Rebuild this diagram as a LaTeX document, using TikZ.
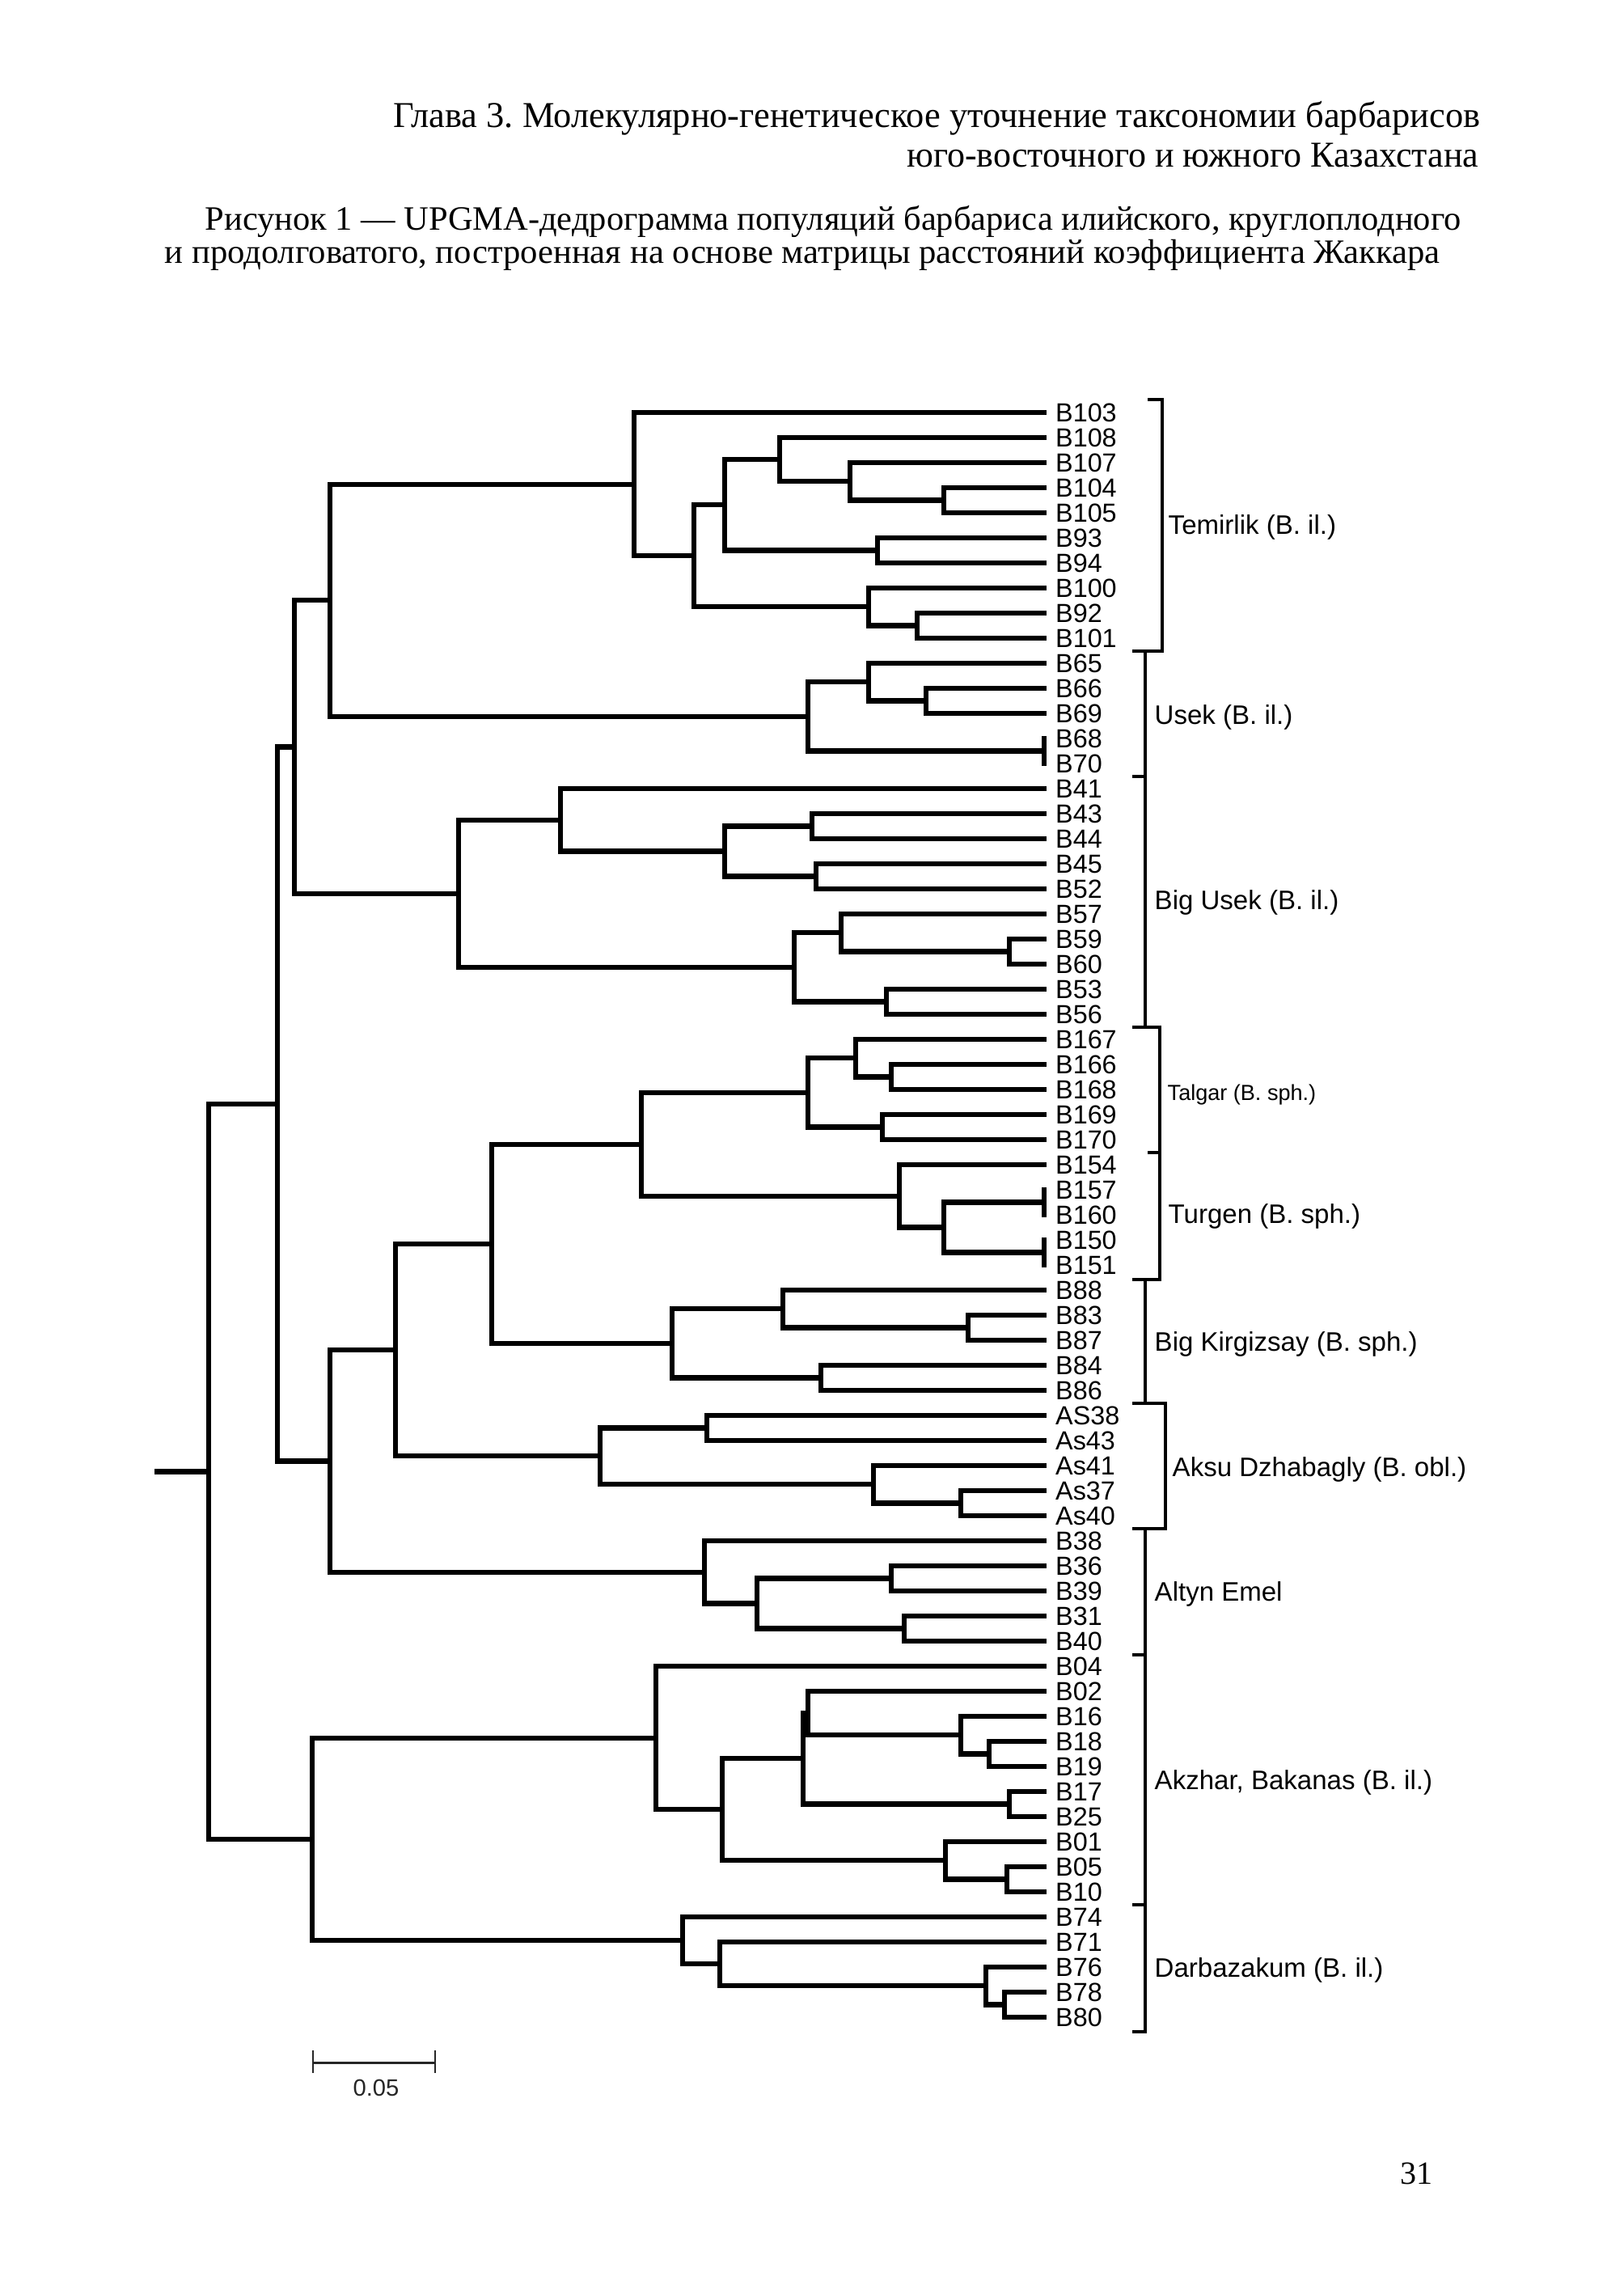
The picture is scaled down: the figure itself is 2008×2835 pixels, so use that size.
\documentclass[tikz,border=0pt]{standalone}
\usepackage{fontspec}
\usepackage{graphicx}
\setmainfont{Liberation Serif}
\newfontfamily\arialf{Liberation Sans}
\frenchspacing
\newcommand\inode[3]{\coordinate (#1) at (#2,{510+31*#3});}
\newcommand\dbranch[3]{\draw[treeline] (#2) -| (#1) |- (#3);}
\begin{document}
\begin{tikzpicture}[x=0.1mm,y=-0.1mm,
  treeline/.style={line width=0.62mm,black},
  brk/.style={line width=0.33mm,black},
  leaf/.style={anchor=west,inner xsep=1.05mm,inner ysep=0pt,text height=6.6pt,text depth=0pt,font=\arialf\fontsize{9.2}{10}\selectfont},
  grp/.style={anchor=base west,inner sep=0pt,font=\arialf\fontsize{9.4}{11}\selectfont},
  grpsmall/.style={anchor=base west,inner sep=0pt,font=\arialf\fontsize{7.7}{9}\selectfont},
  head/.style={inner sep=0pt}]
\fill[white] (0,0) rectangle (2008,2835);
% header
\node[head,anchor=base east] (h1) at (1831,158) {\resizebox{134.4mm}{\height}{\fontsize{12.8}{14}\selectfont Глава 3. Молекулярно-генетическое уточнение таксономии барбарисов}};
\node[head,anchor=base east] (h2) at (1829,206) {\resizebox{70.7mm}{\height}{\fontsize{12.8}{14}\selectfont юго-восточного и южного Казахстана}};
\node[head,anchor=base west] (c1) at (253,284) {\resizebox{155.3mm}{\height}{\fontsize{12}{13}\selectfont Рисунок 1 — UPGMA-дедрограмма популяций барбариса илийского, круглоплодного}};
\node[head,anchor=base west] (c2) at (203,325) {\resizebox{157.7mm}{\height}{\fontsize{12}{13}\selectfont и продолговатого, построенная на основе матрицы расстояний коэффициента Жаккара}};
% leaves
\foreach \n [count=\i from 0] in {B103,B108,B107,B104,B105,B93,B94,B100,B92,B101,B65,B66,B69,B68,B70,B41,B43,B44,B45,B52,B57,B59,B60,B53,B56,B167,B166,B168,B169,B170,B154,B157,B160,B150,B151,B88,B83,B87,B84,B86,AS38,As43,As41,As37,As40,B38,B36,B39,B31,B40,B04,B02,B16,B18,B19,B17,B25,B01,B05,B10,B74,B71,B76,B78,B80}
  \node[leaf] (L\i) at (1294,{510+31*\i}) {\n};
% Temirlik
\inode{e}{1167}{3.5} \dbranch{e}{L3}{L4}
\inode{d}{1051}{2.75} \dbranch{d}{L2}{e}
\inode{c}{964}{1.875} \dbranch{c}{L1}{d}
\inode{t93}{1085}{5.5} \dbranch{t93}{L5}{L6}
\inode{a}{896}{3.6875} \dbranch{a}{c}{t93}
\inode{f}{1134}{8.5} \dbranch{f}{L8}{L9}
\inode{b}{1074}{7.75} \dbranch{b}{L7}{f}
\inode{T2}{858}{5.71875} \dbranch{T2}{a}{b}
\inode{T}{784}{2.859375} \dbranch{T}{L0}{T2}
% Usek
\inode{u1}{1145}{11.5} \dbranch{u1}{L11}{L12}
\inode{u2}{1074}{10.75} \dbranch{u2}{L10}{u1}
\inode{u3}{1291}{13.5} \dbranch{u3}{L13}{L14}
\inode{U}{999}{12.125} \dbranch{U}{u2}{u3}
\inode{TU}{408}{7.4921875} \dbranch{TU}{T}{U}
% Big Usek
\inode{bu1}{1004}{16.5} \dbranch{bu1}{L16}{L17}
\inode{bu2}{1009}{18.5} \dbranch{bu2}{L18}{L19}
\inode{bu3}{896}{17.5} \dbranch{bu3}{bu1}{bu2}
\inode{bu4}{693}{16.25} \dbranch{bu4}{L15}{bu3}
\inode{bu5}{1248}{21.5} \dbranch{bu5}{L21}{L22}
\inode{bu6}{1040}{20.75} \dbranch{bu6}{L20}{bu5}
\inode{bu7}{1096}{23.5} \dbranch{bu7}{L23}{L24}
\inode{bu8}{982}{22.125} \dbranch{bu8}{bu6}{bu7}
\inode{BU}{567}{19.1875} \dbranch{BU}{bu4}{bu8}
\inode{TUB}{364}{13.33984} \dbranch{TUB}{TU}{BU}
% Talgar
\inode{tg1}{1102}{26.5} \dbranch{tg1}{L26}{L27}
\inode{tg2}{1058}{25.75} \dbranch{tg2}{L25}{tg1}
\inode{tg3}{1091}{28.5} \dbranch{tg3}{L28}{L29}
\inode{tg}{999}{27.125} \dbranch{tg}{tg2}{tg3}
% Turgen
\inode{tr1}{1291}{31.5} \dbranch{tr1}{L31}{L32}
\inode{tr2}{1291}{33.5} \dbranch{tr2}{L33}{L34}
\inode{tr3}{1167}{32.5} \dbranch{tr3}{tr1}{tr2}
\inode{tr}{1112}{31.25} \dbranch{tr}{L30}{tr3}
\inode{TT}{793}{29.1875} \dbranch{TT}{tg}{tr}
% Big Kirgizsay
\inode{bk1}{1197}{36.5} \dbranch{bk1}{L36}{L37}
\inode{bk2}{968}{35.75} \dbranch{bk2}{L35}{bk1}
\inode{bk3}{1015}{38.5} \dbranch{bk3}{L38}{L39}
\inode{bk}{831}{37.125} \dbranch{bk}{bk2}{bk3}
\inode{K}{608}{33.15625} \dbranch{K}{TT}{bk}
% Aksu
\inode{ak1}{874}{40.5} \dbranch{ak1}{L40}{L41}
\inode{ak2}{1188}{43.5} \dbranch{ak2}{L43}{L44}
\inode{ak3}{1080}{42.75} \dbranch{ak3}{L42}{ak2}
\inode{ak}{742}{41.625} \dbranch{ak}{ak1}{ak3}
\inode{S}{489}{37.390625} \dbranch{S}{K}{ak}
% Altyn Emel
\inode{ae1}{1102}{46.5} \dbranch{ae1}{L46}{L47}
\inode{ae2}{1118}{48.5} \dbranch{ae2}{L48}{L49}
\inode{ae3}{936}{47.5} \dbranch{ae3}{ae1}{ae2}
\inode{ae}{871}{46.25} \dbranch{ae}{L45}{ae3}
\inode{Q}{408}{41.8203} \dbranch{Q}{S}{ae}
\inode{P1}{343}{27.5801} \dbranch{P1}{TUB}{Q}
% Akzhar
\inode{az1}{1223}{53.5} \dbranch{az1}{L53}{L54}
\inode{az2}{1188}{52.75} \dbranch{az2}{L52}{az1}
\inode{az3}{999}{51.875} \dbranch{az3}{L51}{az2}
\inode{az4}{1248}{55.5} \dbranch{az4}{L55}{L56}
\inode{az5}{993}{53.6875} \dbranch{az5}{az3}{az4}
\inode{az6}{1245}{58.5} \dbranch{az6}{L58}{L59}
\inode{az7}{1169}{57.75} \dbranch{az7}{L57}{az6}
\inode{az8}{893}{55.71875} \dbranch{az8}{az5}{az7}
\inode{az}{811}{52.859375} \dbranch{az}{L50}{az8}
% Darbazakum
\inode{db1}{1242}{63.5} \dbranch{db1}{L63}{L64}
\inode{db2}{1219}{62.75} \dbranch{db2}{L62}{db1}
\inode{db3}{890}{61.875} \dbranch{db3}{L61}{db2}
\inode{db}{844}{60.9375} \dbranch{db}{L60}{db3}
\inode{P2}{386}{56.8984} \dbranch{P2}{az}{db}
\inode{R}{258}{42.2393} \dbranch{R}{P1}{P2}
\coordinate (R0) at (191,{510+31*42.2393});
\draw[treeline] (R0) -- (R);
% brackets
\draw[brk] (1419,494) -- (1437,494) -- (1437,805) -- (1400,805);
\draw[brk] (1416,805) -- (1416,1270);
\draw[brk] (1400,960) -- (1416,960);
\draw[brk] (1400,1270) -- (1434,1270) -- (1434,1582) -- (1400,1582);
\draw[brk] (1419,1425) -- (1434,1425);
\draw[brk] (1416,1582) -- (1416,1735);
\draw[brk] (1400,1735) -- (1441,1735) -- (1441,1890) -- (1400,1890);
\draw[brk] (1416,1890) -- (1416,2512) -- (1400,2512);
\draw[brk] (1400,2046) -- (1416,2046);
\draw[brk] (1400,2355) -- (1416,2355);
% group labels
\node[grp] (gT) at (1444,660) {Temirlik (B. il.)};
\node[grp] (gU) at (1427,895) {Usek (B. il.)};
\node[grp] (gBU) at (1427,1124) {Big Usek (B. il.)};
\node[grpsmall] (gTa) at (1443,1360) {Talgar (B. sph.)};
\node[grp] (gTu) at (1444,1512) {Turgen (B. sph.)};
\node[grp] (gBK) at (1427,1670) {Big Kirgizsay (B. sph.)};
\node[grp] (gA) at (1449,1825) {Aksu Dzhabagly (B. obl.)};
\node[grp] (gAE) at (1427,1979) {Altyn Emel};
\node[grp] (gAB) at (1427,2212) {Akzhar, Bakanas (B. il.)};
\node[grp] (gD) at (1427,2444) {Darbazakum (B. il.)};
% scale bar
\coordinate (sbL) at (387,2550);
\coordinate (sbR) at (538,2550);
\draw[line width=0.3mm,black!85] (sbL) -- (sbR);
\draw[line width=0.25mm,black!85] (387,2535) -- (387,2563) (538,2535) -- (538,2563);
\node[inner sep=0pt,font=\arialf\fontsize{8.3}{10}\selectfont,text=black!85] (sbl) at (465,2581) {0.05};
% page number
\node[head,anchor=base west,font=\fontsize{11.4}{13}\selectfont] (pg) at (1731,2700) {31};
\end{tikzpicture}
\end{document}
